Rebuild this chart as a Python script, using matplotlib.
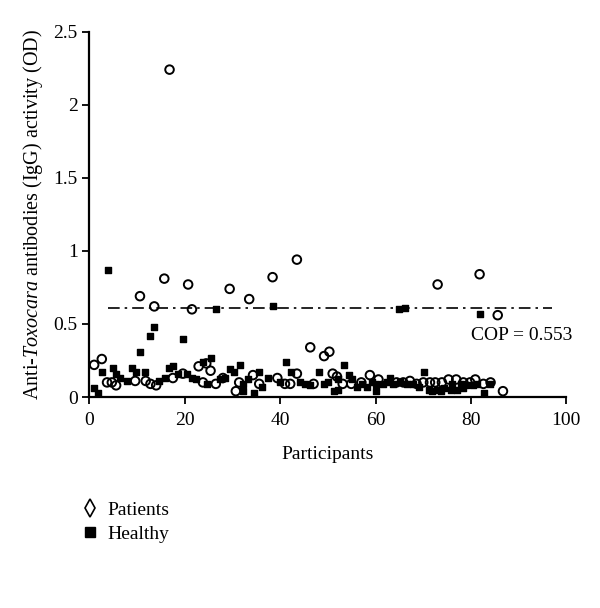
import matplotlib
matplotlib.use("Agg")
import matplotlib.pyplot as plt
from matplotlib.lines import Line2D

plt.rcParams.update(
    {
        "font.family": "Liberation Serif",
        "mathtext.fontset": "custom",
        "mathtext.rm": "Liberation Serif",
        "mathtext.it": "Liberation Serif:italic",
        "axes.spines.top": False,
        "axes.spines.right": False,
    }
)

# Patients (open circles): participant index, OD
patients_x = [1.0, 2.6, 3.7, 4.7, 5.6, 9.6, 10.6, 11.8, 12.8, 13.6, 14.0, 15.7, 16.8, 17.5,
              19.6, 20.7, 21.5, 22.9, 23.8, 24.5, 25.4, 26.5, 28.0, 29.4, 30.7, 31.4, 33.5,
              34.3, 35.6, 38.4, 39.4, 41.0, 42.1, 43.5, 43.5, 46.3, 47.0, 49.2, 50.3, 51.0,
              51.9, 53.1, 54.9, 57.0, 58.8, 60.6, 64.4, 65.8, 67.2, 68.6, 70.0, 71.4, 72.5,
              73.0, 73.9, 75.3, 76.9, 78.4, 79.8, 80.9, 81.8, 82.6, 84.1, 85.6, 86.7]
patients_y = [0.22, 0.26, 0.10, 0.10, 0.08, 0.11, 0.69, 0.11, 0.09, 0.62, 0.08, 0.81, 2.24, 0.13,
              0.16, 0.77, 0.60, 0.21, 0.10, 0.23, 0.18, 0.09, 0.13, 0.74, 0.04, 0.10, 0.67,
              0.15, 0.09, 0.82, 0.13, 0.09, 0.09, 0.94, 0.16, 0.34, 0.09, 0.28, 0.31, 0.16,
              0.14, 0.09, 0.09, 0.10, 0.15, 0.12, 0.10, 0.10, 0.11, 0.09, 0.10, 0.10, 0.10,
              0.77, 0.10, 0.12, 0.12, 0.10, 0.10, 0.12, 0.84, 0.09, 0.10, 0.56, 0.04]

# Healthy (filled squares)
healthy_x = [1.0, 1.8, 2.7, 3.9, 5.0, 5.6, 6.4, 7.8, 8.9, 9.7, 10.7, 11.7, 12.7, 13.6, 14.6,
             15.9, 16.7, 17.6, 18.5, 19.7, 20.5, 21.5, 22.4, 23.8, 24.7, 25.4, 26.5, 27.4,
             28.4, 29.4, 30.4, 31.6, 32.3, 32.3, 33.3, 34.5, 35.6, 36.1, 37.4, 38.4, 40.0,
             41.3, 42.3, 44.2, 45.2, 46.3, 48.2, 49.2, 50.1, 51.2, 52.2, 52.2, 53.3, 54.4,
             55.1, 56.1, 57.2, 58.2, 59.2, 60.1, 60.1, 61.5, 62.3, 63.0, 63.7, 65.0, 65.1,
             66.2, 66.5, 67.8, 69.2, 70.2, 71.1, 71.8, 72.8, 73.7, 74.4, 75.8, 76.0, 77.1,
             77.9, 78.3, 79.0, 80.4, 81.2, 81.8, 82.7, 83.9]
healthy_y = [0.06, 0.03, 0.17, 0.87, 0.20, 0.16, 0.13, 0.11, 0.20, 0.17, 0.31, 0.17, 0.42, 0.48, 0.11,
             0.13, 0.20, 0.21, 0.16, 0.40, 0.16, 0.13, 0.12, 0.24, 0.09, 0.27, 0.60, 0.12,
             0.13, 0.19, 0.17, 0.22, 0.04, 0.09, 0.12, 0.03, 0.17, 0.07, 0.13, 0.62, 0.10,
             0.24, 0.17, 0.10, 0.09, 0.08, 0.17, 0.09, 0.10, 0.04, 0.12, 0.05, 0.22, 0.15,
             0.12, 0.07, 0.09, 0.07, 0.10, 0.09, 0.04, 0.09, 0.10, 0.13, 0.09, 0.60, 0.10,
             0.61, 0.09, 0.09, 0.07, 0.17, 0.05, 0.04, 0.05, 0.04, 0.06, 0.05, 0.09, 0.05,
             0.09, 0.06, 0.08, 0.08, 0.09, 0.57, 0.03, 0.09]

# cut-off line as drawn
cop_x = [4, 97]
cop_y = [0.61, 0.61]
cop_label = "COP = 0.553"

fig = plt.figure(figsize=(6, 6.08), dpi=100)
ax = fig.add_axes([0.149, 0.347, 0.795, 0.601])

ax.plot(cop_x, cop_y, color="black", lw=1.2, ls=(0, (7, 3, 1.5, 3)))
ax.scatter(healthy_x, healthy_y, marker="s", s=20, color="black", zorder=3)
ax.scatter(patients_x, patients_y, marker="o", s=38, facecolors="none",
           edgecolors="black", linewidths=1.4, zorder=3)
ax.text(80.0, 0.42, cop_label, fontsize=14, va="center", ha="left")

ax.set_xlim(0, 100)
ax.set_ylim(0, 2.5)
ax.set_xticks([0, 20, 40, 60, 80, 100])
ax.set_yticks([0, 0.5, 1, 1.5, 2, 2.5])
ax.set_yticklabels(["0", "0.5", "1", "1.5", "2", "2.5"])
ax.tick_params(direction="out", length=5, width=1.3, labelsize=14, colors="black")
ax.tick_params(axis="x", pad=6)
for s in ("left", "bottom"):
    ax.spines[s].set_linewidth(1.6)
ax.set_xlabel("Participants", fontsize=14, labelpad=12)
ax.set_ylabel(r"Anti-$\it{Toxocara}$ antibodies (IgG) activity (OD)", fontsize=14.5, labelpad=6)

handles = [
    Line2D([], [], ls="none", marker="d", markersize=9, markerfacecolor="none",
           markeredgecolor="black", markeredgewidth=1.2),
    Line2D([], [], ls="none", marker="s", markersize=7, color="black"),
]
fig.legend(handles, ["Patients", "Healthy"], loc="upper left",
           bbox_to_anchor=(0.108, 1 - 484 / 608), frameon=False, fontsize=14,
           handlelength=0.8, handletextpad=0.5, labelspacing=0.3)

fig.savefig("out.png", dpi=100)
